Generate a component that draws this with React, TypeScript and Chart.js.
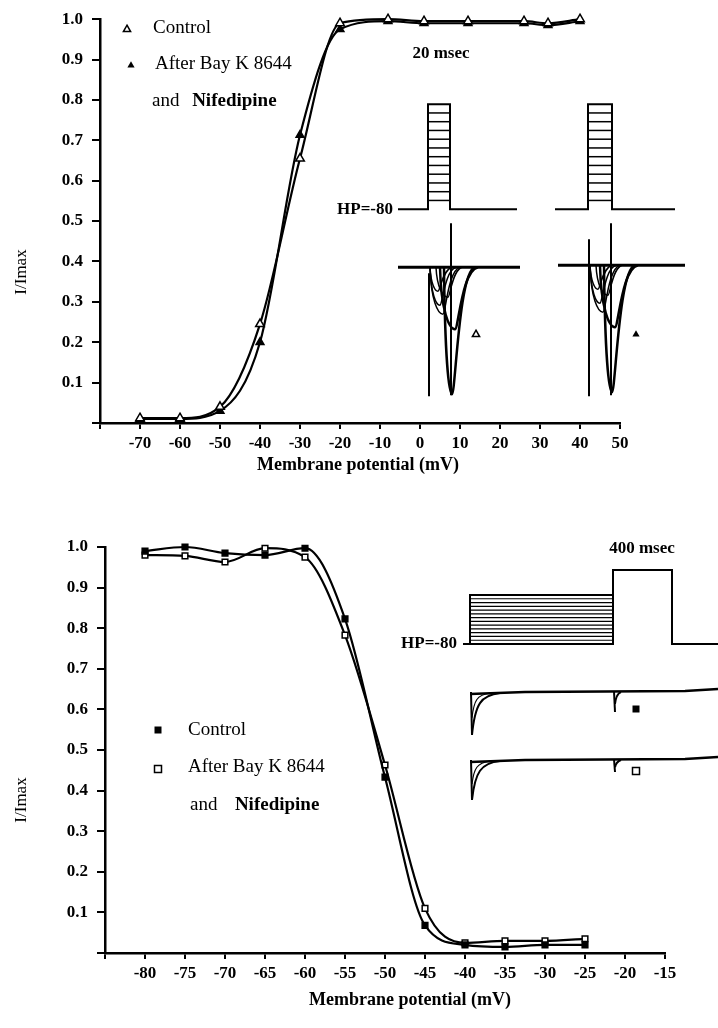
import React, { useEffect, useRef } from 'react';
import { Chart, registerables } from 'chart.js';

Chart.register(...registerables);

const FONT = '"Liberation Serif", "Times New Roman", serif';

// ---- Panel A: activation (20 msec pulses) ----
const actVoltages = [-70, -60, -50, -40, -30, -20, -8, 1, 12, 26, 32, 40];
const actControl = [0.012, 0.012, 0.04, 0.245, 0.655, 0.99, 1.0, 0.995, 0.995, 0.995, 0.99, 1.0];
const actBayK = [0.01, 0.01, 0.03, 0.2, 0.713, 0.975, 0.995, 0.99, 0.99, 0.99, 0.985, 0.995];
const actXTickLabels = ['-70', '-60', '-50', '-40', '-30', '-20', '-10', '0', '10', '20', '30', '40', '50'];

// ---- Panel B: inactivation (400 msec prepulses) ----
const inaVoltages = [-80, -75, -70, -65, -60, -55, -50, -45, -40, -35, -30, -25];
const inaControl = [0.99, 1.0, 0.985, 0.98, 0.997, 0.823, 0.433, 0.068, 0.02, 0.015, 0.02, 0.02];
const inaBayK = [0.98, 0.978, 0.963, 0.997, 0.975, 0.783, 0.463, 0.11, 0.025, 0.03, 0.03, 0.035];
const inaXTickLabels = ['-80', '-75', '-70', '-65', '-60', '-55', '-50', '-45', '-40', '-35', '-30', '-25', '-20', '-15'];

const yTickLabels = ['0.1', '0.2', '0.3', '0.4', '0.5', '0.6', '0.7', '0.8', '0.9', '1.0'];

const yTitle = 'I/Imax';
const xTitle = 'Membrane potential (mV)';

function tri(ctx: CanvasRenderingContext2D, x: number, y: number, r: number, filled: boolean) {
  ctx.beginPath();
  ctx.moveTo(x, y - r);
  ctx.lineTo(x + r * 0.9, y + r * 0.6);
  ctx.lineTo(x - r * 0.9, y + r * 0.6);
  ctx.closePath();
  if (filled) ctx.fill();
  else {
    ctx.save();
    ctx.fillStyle = '#fff';
    ctx.fill();
    ctx.restore();
    ctx.lineWidth = 1.5;
    ctx.stroke();
  }
}

function sq(ctx: CanvasRenderingContext2D, x: number, y: number, r: number, filled: boolean) {
  ctx.beginPath();
  ctx.rect(x - r, y - r, 2 * r, 2 * r);
  if (filled) ctx.fill();
  else {
    ctx.save();
    ctx.fillStyle = '#fff';
    ctx.fill();
    ctx.restore();
    ctx.lineWidth = 1.5;
    ctx.stroke();
  }
}

function seg(ctx: CanvasRenderingContext2D, x0: number, y0: number, x1: number, y1: number) {
  ctx.beginPath();
  ctx.moveTo(x0, y0);
  ctx.lineTo(x1, y1);
  ctx.stroke();
}

function dip(ctx: CanvasRenderingContext2D, x0: number, base: number, xm: number, depth: number, xe: number) {
  ctx.beginPath();
  ctx.moveTo(x0, base);
  ctx.bezierCurveTo(x0 + 1, base + depth * 0.7, xm - (xm - x0) * 0.4, base + depth, xm, base + depth);
  ctx.bezierCurveTo(xm + (xe - xm) * 0.15, base + depth, xm + (xe - xm) * 0.3, base + 3, xe, base);
  ctx.stroke();
}

function titles(ctx: CanvasRenderingContext2D, yx: number, yy: number, xx: number, xy: number) {
  ctx.save();
  ctx.fillStyle = '#000';
  ctx.textAlign = 'center';
  ctx.textBaseline = 'middle';
  ctx.font = `17px ${FONT}`;
  ctx.translate(yx, yy);
  ctx.rotate(-Math.PI / 2);
  ctx.fillText(yTitle, 0, 0);
  ctx.restore();
  ctx.save();
  ctx.fillStyle = '#000';
  ctx.textAlign = 'center';
  ctx.textBaseline = 'middle';
  ctx.font = `bold 18px ${FONT}`;
  ctx.fillText(xTitle, xx, xy);
  ctx.restore();
}

const decorA = {
  id: 'decorA',
  afterDraw(chart: any) {
    const { ctx, chartArea: a } = chart;
    const L = a.left;
    const T = a.top;
    ctx.save();
    ctx.strokeStyle = '#000';
    ctx.fillStyle = '#000';
    titles(ctx, 22, 272, 358, 465);

    // legend
    ctx.textAlign = 'left';
    ctx.textBaseline = 'middle';
    ctx.font = `19px ${FONT}`;
    tri(ctx, L + 27, T + 10, 4, false);
    ctx.fillText('Control', L + 53, T + 9);
    tri(ctx, L + 31, T + 46, 4, true);
    ctx.fillText('After Bay K 8644', L + 55, T + 45);
    ctx.fillText('and ', L + 52, T + 82);
    ctx.font = `bold 19px ${FONT}`;
    ctx.fillText('Nifedipine', L + 52 + ctx.measureText('and  ').width, T + 82);

    // inset: protocol
    ctx.font = `bold 17px ${FONT}`;
    ctx.textAlign = 'center';
    ctx.fillText('20 msec', L + 341, T + 34);
    ctx.textAlign = 'right';
    ctx.fillText('HP=-80', L + 293, T + 190);
    const pulses = [
      [298, 417, 328, 350],
      [455, 575, 488, 512],
    ];
    for (const [b0, b1, p0, p1] of pulses) {
      ctx.lineWidth = 2;
      ctx.beginPath();
      ctx.moveTo(L + b0, T + 190);
      ctx.lineTo(L + p0, T + 190);
      ctx.lineTo(L + p0, T + 85);
      ctx.lineTo(L + p1, T + 85);
      ctx.lineTo(L + p1, T + 190);
      ctx.lineTo(L + b1, T + 190);
      ctx.stroke();
      ctx.lineWidth = 1.5;
      for (let i = 1; i < 12; i++) {
        const y = T + 85 + (i * 105) / 12;
        seg(ctx, L + p0, y, L + p1, y);
      }
    }

    // inset: current traces
    const traces = [
      { dx: 0, base: 248, v0: 254, filled: false },
      { dx: 160, base: 246, v0: 220, filled: true },
    ];
    for (const t of traces) {
      const B = T + t.base;
      ctx.lineWidth = 3;
      seg(ctx, L + 298 + t.dx, B, L + 420 + t.dx + (t.dx ? 5 : 0), B);
      ctx.lineWidth = 2;
      seg(ctx, L + 329 + t.dx, T + t.v0, L + 329 + t.dx, T + 377);
      seg(ctx, L + 351 + t.dx, T + 204, L + 351 + t.dx, T + 376);
      ctx.lineWidth = 1.5;
      const x0 = L + 330 + t.dx;
      dip(ctx, x0, B, L + 338 + t.dx, 24, L + 352 + t.dx);
      dip(ctx, x0, B, L + 340 + t.dx, 38, L + 356 + t.dx);
      dip(ctx, x0, B, L + 343 + t.dx, 47, L + 360 + t.dx);
      dip(ctx, x0 + 6, B, L + 348 + t.dx, 30, L + 362 + t.dx);
      ctx.lineWidth = 2.5;
      dip(ctx, x0 + 10, B, L + 355 + t.dx, 62, L + 378 + t.dx);
      dip(ctx, x0 + 14, B, L + 352 + t.dx, 127, L + 375 + t.dx);
      tri(ctx, L + 376 + t.dx, T + 315, 4, t.filled);
    }
    ctx.restore();
  },
};

const decorB = {
  id: 'decorB',
  afterDraw(chart: any) {
    const { ctx, chartArea: a } = chart;
    const L = a.left;
    const T = a.top;
    ctx.save();
    ctx.strokeStyle = '#000';
    ctx.fillStyle = '#000';
    titles(ctx, 22, 300, 410, 500);

    // legend
    ctx.textAlign = 'left';
    ctx.textBaseline = 'middle';
    ctx.font = `19px ${FONT}`;
    sq(ctx, L + 53, T + 183, 3.5, true);
    ctx.fillText('Control', L + 83, T + 183);
    sq(ctx, L + 53, T + 222, 3.5, false);
    ctx.fillText('After Bay K 8644', L + 83, T + 220);
    ctx.fillText('and ', L + 85, T + 258);
    ctx.font = `bold 19px ${FONT}`;
    ctx.fillText('Nifedipine', L + 85 + ctx.measureText('and   ').width, T + 258);

    // inset: protocol
    ctx.font = `bold 17px ${FONT}`;
    ctx.textAlign = 'center';
    ctx.fillText('400 msec', L + 537, T + 2);
    ctx.textAlign = 'right';
    ctx.fillText('HP=-80', L + 352, T + 97);
    ctx.lineWidth = 2;
    ctx.beginPath();
    ctx.moveTo(L + 358, T + 97);
    ctx.lineTo(L + 365, T + 97);
    ctx.lineTo(L + 365, T + 48);
    ctx.lineTo(L + 508, T + 48);
    ctx.lineTo(L + 508, T + 97);
    ctx.lineTo(L + 365, T + 97);
    ctx.stroke();
    ctx.beginPath();
    ctx.moveTo(L + 508, T + 97);
    ctx.lineTo(L + 508, T + 23);
    ctx.lineTo(L + 567, T + 23);
    ctx.lineTo(L + 567, T + 97);
    ctx.lineTo(L + 613, T + 97);
    ctx.stroke();
    ctx.lineWidth = 1.2;
    for (let i = 1; i < 13; i++) {
      const y = T + 48 + (i * 49) / 13;
      seg(ctx, L + 365, y, L + 508, y);
    }

    // inset: current traces
    const traces = [
      { base: 145, deep: 43, small: 20, filled: true, my: 162 },
      { base: 213, deep: 40, small: 12, filled: false, my: 224 },
    ];
    for (const t of traces) {
      const B = T + t.base;
      ctx.lineWidth = 2.5;
      ctx.beginPath();
      ctx.moveTo(L + 365, B + 2);
      ctx.lineTo(L + 420, B);
      ctx.lineTo(L + 580, B - 1);
      ctx.lineTo(L + 613, B - 3);
      ctx.stroke();
      ctx.lineWidth = 2;
      seg(ctx, L + 366, B, L + 367, B + t.deep);
      ctx.beginPath();
      ctx.moveTo(L + 367, B + t.deep);
      ctx.bezierCurveTo(L + 370, B + 12, L + 376, B + 3, L + 395, B + 1);
      ctx.stroke();
      ctx.lineWidth = 1.2;
      ctx.beginPath();
      ctx.moveTo(L + 367, B + t.deep * 0.6);
      ctx.bezierCurveTo(L + 369, B + 8, L + 372, B + 3, L + 385, B + 1);
      ctx.stroke();
      ctx.lineWidth = 2;
      seg(ctx, L + 509, B - 1, L + 510, B + t.small);
      ctx.beginPath();
      ctx.moveTo(L + 510, B + t.small * 0.6);
      ctx.quadraticCurveTo(L + 511, B + 2, L + 516, B);
      ctx.stroke();
      sq(ctx, L + 531, T + t.my, 3.5, t.filled);
    }
    ctx.restore();
  },
};

function makeOptions(cfg: {
  xMin: number;
  xMax: number;
  xStep: number;
  xLabels: string[];
  padTop: number;
  padRight: number;
  yWidth: number;
  xHeight: number;
}): any {
  const tickFont = { family: FONT, size: 17, weight: 'bold' as const };
  return {
    responsive: false,
    animation: false,
    layout: { padding: { top: cfg.padTop, right: cfg.padRight, left: 0, bottom: 0 } },
    plugins: { legend: { display: false }, tooltip: { enabled: false }, title: { display: false } },
    scales: {
      x: {
        type: 'linear',
        min: cfg.xMin,
        max: cfg.xMax,
        ticks: {
          stepSize: cfg.xStep,
          autoSkip: false,
          maxRotation: 0,
          color: '#000',
          font: tickFont,
          padding: 4,
          callback: (v: number) => (cfg.xLabels.includes(String(v)) ? String(v) : ''),
        },
        grid: { drawOnChartArea: false, drawTicks: true, tickLength: 6, color: '#000', lineWidth: 2 },
        border: { display: true, color: '#000', width: 2.5 },
        afterFit: (s: any) => {
          s.height = cfg.xHeight;
        },
      },
      y: {
        type: 'linear',
        min: 0,
        max: 1,
        ticks: {
          stepSize: 0.1,
          color: '#000',
          font: tickFont,
          padding: 9,
          callback: (v: number) => {
            const s = Number(v).toFixed(1);
            return yTickLabels.includes(s) ? s : '';
          },
        },
        grid: { drawOnChartArea: false, drawTicks: true, tickLength: 8, color: '#000', lineWidth: 2 },
        border: { display: true, color: '#000', width: 2.5 },
        afterFit: (s: any) => {
          s.width = cfg.yWidth;
        },
      },
    },
  };
}

function series(xs: number[], ys: number[], label: string, style: string, filled: boolean, r: number) {
  return {
    label,
    data: xs.map((x, i) => ({ x, y: ys[i] })),
    borderColor: '#000',
    borderWidth: 2.2,
    pointStyle: style,
    pointRadius: r,
    pointBackgroundColor: filled ? '#000' : '#fff',
    pointBorderColor: '#000',
    pointBorderWidth: 1.5,
    cubicInterpolationMode: 'monotone',
    clip: false,
  };
}

export default function App() {
  const topRef = useRef<HTMLCanvasElement>(null);
  const botRef = useRef<HTMLCanvasElement>(null);

  useEffect(() => {
    const c1 = new Chart(topRef.current as HTMLCanvasElement, {
      type: 'line',
      data: {
        datasets: [
          series(actVoltages, actControl, 'Control', 'triangle', false, 5) as any,
          series(actVoltages, actBayK, 'After Bay K 8644 and Nifedipine', 'triangle', true, 4.5) as any,
        ],
      },
      options: makeOptions({
        xMin: -80,
        xMax: 50,
        xStep: 10,
        xLabels: actXTickLabels,
        padTop: 18,
        padRight: 98,
        yWidth: 100,
        xHeight: 72,
      }),
      plugins: [decorA],
    });
    const c2 = new Chart(botRef.current as HTMLCanvasElement, {
      type: 'line',
      data: {
        datasets: [
          series(inaVoltages, inaControl, 'Control', 'rect', true, 4) as any,
          series(inaVoltages, inaBayK, 'After Bay K 8644 and Nifedipine', 'rect', false, 4) as any,
        ],
      },
      options: makeOptions({
        xMin: -85,
        xMax: -15,
        xStep: 5,
        xLabels: inaXTickLabels,
        padTop: 47,
        padRight: 53,
        yWidth: 105,
        xHeight: 75,
      }),
      plugins: [decorB],
    });
    return () => {
      c1.destroy();
      c2.destroy();
    };
  }, []);

  return (
    <div style={{ position: 'absolute', left: 0, top: 0, width: 718, height: 1028, background: '#fff' }}>
      <canvas ref={topRef} width={718} height={495} style={{ position: 'absolute', left: 0, top: 0 }} />
      <canvas ref={botRef} width={718} height={528} style={{ position: 'absolute', left: 0, top: 500 }} />
    </div>
  );
}
